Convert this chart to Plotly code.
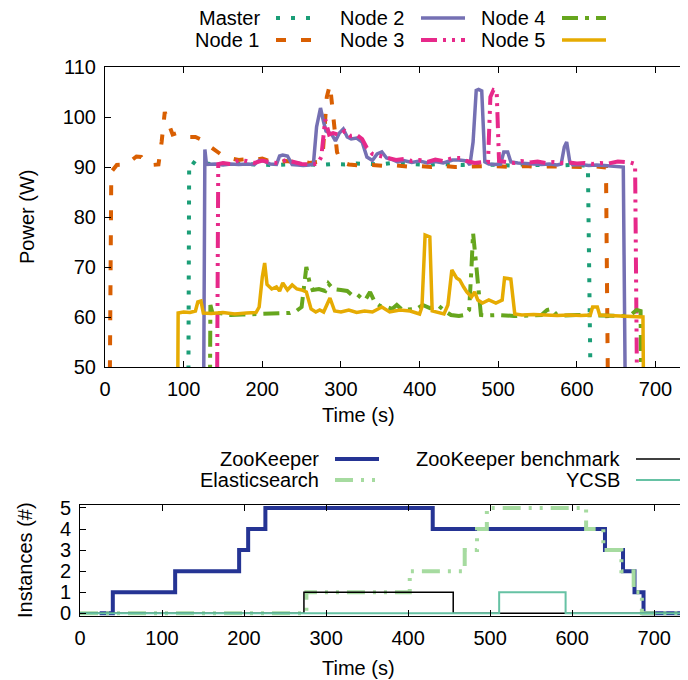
import plotly.graph_objects as go

# ---- data ----
master_t = [0, 105, 107, 110, 115, 125, 140, 155, 170, 185, 200, 215, 230, 245, 260, 275, 290, 305, 320, 335,
            350, 365, 380, 395, 410, 425, 440, 455, 470, 485, 500, 515, 530, 545, 560, 575, 590, 605, 614, 621]
master_w = [0, 0, 90.2, 91.2, 90.6, 90.8, 90.5, 90.7, 90.6, 90.5, 90.6, 90.4, 90.5, 90.7, 90.5, 90.4, 90.6, 90.5, 90.7, 90.6,
            90.5, 90.8, 90.6, 90.5, 90.4, 90.6, 90.5, 90.4, 90.6, 90.5, 90.5, 90.3, 90.5, 90.4, 90.5, 90.3, 90.4, 90.3, 90.3, 0]

node1_t = [0, 4, 8, 15, 27, 34, 40, 46, 52, 60, 68, 72, 76, 80, 86, 92, 100, 108, 115, 122,
           130, 137, 145, 152, 160, 170, 180, 190, 200, 210, 220, 230, 240, 250, 260, 270, 277, 282, 286, 290,
           295, 300, 310, 325, 340, 355, 370, 385, 400, 415, 430, 445, 460, 475, 490, 505, 520, 535, 550, 565,
           580, 595, 610, 625, 637, 642]
node1_w = [0, 0, 89, 90.4, 90.5, 91.5, 92.1, 92, 90.8, 90.4, 90.5, 95, 101, 99, 96.5, 96.8, 96.3, 96, 96, 95.5,
           94.5, 93.6, 92.8, 92, 91.8, 91.4, 91.6, 91.4, 91.7, 91.1, 90.8, 91.2, 91, 91.2, 90.8, 91, 93, 104, 106.5, 101,
           93, 91, 90.5, 90.3, 90.4, 90.2, 90.3, 90.1, 90.2, 90.0, 90.2, 90.0, 90.1, 90.0, 90.2, 90.1, 90.0, 90.2, 90.0, 90.1,
           90.0, 90.1, 90.0, 90.1, 89.9, 0]

node2_t = [0, 124, 127, 129, 140, 150, 160, 170, 180, 190, 196, 202, 210, 218, 222, 226, 232, 238, 245, 252,
           260, 265, 269, 274, 278, 281, 288, 293, 298, 303, 308, 313, 320, 327, 333, 340, 346, 352, 358, 365,
           372, 380, 390, 400, 410, 420, 430, 442, 450, 460, 464, 468, 472, 475, 479, 483, 488, 495, 503, 507,
           512, 516, 525, 535, 545, 555, 565, 575, 580, 584, 587, 591, 595, 605, 615, 625, 635, 645, 655, 659, 664]
node2_w = [0, 0, 93.5, 90.5, 90.6, 90.4, 90.6, 90.5, 90.6, 90.5, 91.3, 91.2, 90.6, 90.5, 92.2, 92.4, 92.2, 90.5, 90.4, 90.3,
           90.4, 90.6, 98, 101.8, 99, 97.2, 96.6, 95.2, 96.8, 97.6, 96, 95.6, 95.8, 95, 92, 91.3, 92.6, 93, 91.8, 91.5,
           91, 91.3, 90.9, 91.2, 90.8, 91.1, 90.8, 91.4, 91.4, 91.2, 90.4, 95, 105.3, 105.5, 105.2, 91, 90.6, 90.5, 90.6, 93,
           93, 91, 90.8, 90.7, 90.6, 90.5, 90.6, 90.4, 90.6, 94, 95, 91, 90.4, 90.5, 90.3, 90.4, 90.3, 90.2, 90.2, 90.0, 0]

node3_t = [0, 141, 144, 150, 160, 171, 180, 190, 200, 210, 220, 230, 240, 250, 260, 270, 275, 280, 285, 290,
           298, 305, 312, 320, 327, 333, 340, 350, 360, 370, 380, 390, 400, 410, 420, 430, 442, 452, 460, 470,
           480, 487, 490, 494, 498, 501, 510, 520, 530, 540, 550, 560, 570, 580, 590, 600, 610, 620, 630, 640,
           652, 660, 668, 674, 679]
node3_w = [0, 0, 90.6, 90.8, 90.6, 91.4, 91.2, 90.8, 91.3, 90.9, 90.8, 91.4, 91, 90.6, 90.5, 90.6, 92, 99.5, 96.5, 96.8,
           96.4, 97.2, 96.2, 96.4, 95.6, 93.8, 92.6, 92.2, 91.8, 91.4, 91.6, 91.2, 91.4, 91, 91.5, 91.2, 91.8, 91.8, 91.2, 90.8,
           91, 91, 104, 105.4, 105.2, 91.2, 91, 90.8, 91.2, 90.9, 91.1, 90.8, 91, 90.8, 90.9, 90.7, 90.8, 90.6, 90.8, 90.7,
           91.1, 91, 90.9, 90.6, 0]

node4_t = [0, 132, 134, 137, 145, 160, 175, 190, 205, 220, 235, 244, 250, 253, 256, 260, 264, 272, 280, 284,
           290, 300, 308, 314, 320, 326, 331, 337, 343, 350, 358, 365, 371, 378, 388, 396, 404, 413, 423, 432,
           440, 450, 457, 463, 466, 468, 471, 474, 478, 485, 500, 520, 540, 555, 562, 568, 574, 580, 600, 620,
           640, 660, 670, 676, 681, 684]
node4_w = [0, 0, 62.4, 60.6, 60.8, 60.4, 60.5, 60.6, 60.8, 60.7, 60.8, 61.3, 62, 66, 70, 67, 65.4, 65.6, 65.2, 66.7,
           65.6, 65.4, 65.2, 64.4, 64.6, 63.8, 63.4, 65, 63, 62.2, 62, 61.6, 62.4, 61.4, 61.4, 61.6, 62.4, 61.8, 62.4, 61.2,
           60.4, 60.2, 60.4, 61.4, 70, 76.8, 72, 66.5, 60.4, 60.3, 60.4, 60.2, 60.3, 60.4, 61.4, 61.6, 60.5, 60.3, 60.4, 60.3,
           60.3, 60.2, 60.6, 61.4, 61.2, 0]

node5_t = [0, 91, 93, 100, 108, 115, 118, 122, 125, 135, 150, 165, 180, 192, 196, 200, 203, 206, 212, 218,
           222, 226, 232, 238, 244, 250, 256, 262, 268, 273, 278, 286, 292, 300, 310, 320, 330, 340, 352, 362,
           375, 388, 400, 403, 407, 413, 416, 421, 431, 436, 441, 447, 451, 456, 460, 466, 470, 474, 480, 488,
           497, 505, 508, 516, 521, 530, 545, 560, 575, 590, 605, 617, 620, 626, 629, 640, 655, 670, 684, 687]
node5_w = [0, 0, 60.8, 61, 60.9, 61.2, 63, 63.2, 60.8, 60.7, 60.9, 60.6, 60.8, 60.9, 62, 68, 70.8, 66.5, 65.6, 66,
           65.2, 66.8, 65.4, 66.4, 65.6, 65.4, 65, 61.6, 61, 61.4, 61, 63.8, 61.2, 61, 61.4, 60.9, 61.2, 61, 62, 61,
           61.4, 61.2, 60.6, 62, 76.4, 76, 61.2, 61, 60.6, 62.4, 69.4, 67.8, 67.4, 66, 65, 64, 65, 63.4, 62.8, 63.4,
           62.8, 63.4, 67.8, 67.6, 60.6, 60.4, 60.5, 60.4, 60.3, 60.4, 60.3, 60.4, 62, 62, 60.4, 60.3, 60.2, 60.1, 60, 0]

zk_t = [24, 40, 116, 194, 205, 226, 430, 640, 662, 676, 687, 740]
zk_n = [0, 1, 2, 3, 4, 5, 4, 3, 2, 1, 0, 0]
es_t = [0, 276, 402, 469, 484, 496, 617, 638, 660, 675, 685, 740]
es_n = [0, 1, 2, 3, 4, 5, 4, 3, 2, 1, 0, 0]
bench_t = [0, 273, 455, 740]
bench_n = [0, 1, 0, 0]
ycsb_t = [0, 511, 592, 740]
ycsb_n = [0, 1, 0, 0]

W, H = 688, 680
OFF = 8  # the page body adds an 8px margin; place everything 8px up/left
FONT = "Liberation Sans, Arial, sans-serif"


def px(x):
    return (x - OFF) / W


def py(y):
    return 1 - (y - OFF) / H


top = [
    ("Master", master_t, master_w, "#1b9e77", "4px,11px", 4),
    ("Node 1", node1_t, node1_w, "#d95f02", "10px,15px", 4),
    ("Node 2", node2_t, node2_w, "#7570b3", "solid", 3.5),
    ("Node 3", node3_t, node3_w, "#e7298a", "16px,6px,3px,6px,3px,6px", 4),
    ("Node 4", node4_t, node4_w, "#66a61e", "16px,7px,4px,7px", 4),
    ("Node 5", node5_t, node5_w, "#e6ab02", "solid", 3.5),
]
bottom = [
    ("ZooKeeper", zk_t, zk_n, "#253494", "solid", 4),
    ("Elasticsearch", es_t, es_n, "#a6dba0", "18px,8px,3px,8px,3px,8px", 4),
    ("ZooKeeper benchmark", bench_t, bench_n, "black", "solid", 1.5),
    ("YCSB", ycsb_t, ycsb_n, "#66c2a4", "solid", 2),
]

fig = go.Figure()
for name, t, v, c, d, w in top:
    fig.add_scatter(x=t, y=v, mode="lines", name=name, xaxis="x", yaxis="y",
                    line=dict(color=c, dash=d, width=w), showlegend=False)
for name, t, v, c, d, w in bottom:
    fig.add_scatter(x=t, y=v, mode="lines", name=name, xaxis="x2", yaxis="y2",
                    line=dict(color=c, dash=d, width=w, shape="hv"), showlegend=False)

ax = dict(showline=True, linecolor="black", linewidth=1, mirror="allticks", ticks="inside",
          ticklen=6, tickcolor="black", showgrid=False, zeroline=False, automargin=False,
          ticklabelstandoff=4, tickfont=dict(size=20, color="black", family=FONT))

fig.update_layout(
    width=W, height=H, margin=dict(l=0, r=0, t=0, b=0, autoexpand=False),
    paper_bgcolor="white", plot_bgcolor="white",
    font=dict(family=FONT, size=20, color="black"),
    xaxis=dict(ax, domain=[px(105), px(687)], range=[0, 740], dtick=100, anchor="y"),
    yaxis=dict(ax, domain=[py(367), py(67)], range=[50, 110], dtick=10, anchor="x"),
    xaxis2=dict(ax, domain=[px(80), px(687)], range=[0, 740], dtick=100, anchor="y2"),
    yaxis2=dict(ax, domain=[py(616), py(505)], range=[-0.13, 5.14], dtick=1, anchor="x2"),
)

ann = [
    ("Power (W)", 27, 217, -90),
    ("Time (s)", 358, 415, 0),
    ("Instances (#)", 25, 560, -90),
    ("Time (s)", 358, 668, 0),
]
for txt, x, y, a in ann:
    fig.add_annotation(text=txt, x=px(x), y=py(y), xref="paper", yref="paper",
                       xanchor="center", yanchor="middle",
                       showarrow=False, textangle=a, font=dict(size=20))

# gnuplot-style keys: label right-aligned, sample to the right
top_key = [(262, 18, 0), (262, 40, 1), (407, 18, 2), (407, 40, 3), (548, 18, 4), (548, 40, 5)]
for x, y, i in top_key:
    name, _, _, c, d, w = top[i]
    fig.add_annotation(text=name, x=px(x), y=py(y), xref="paper", yref="paper",
                       xanchor="right", yanchor="middle", showarrow=False, font=dict(size=20))
    fig.add_shape(type="line", xref="paper", yref="paper", x0=px(x + 14), x1=px(x + 58),
                  y0=py(y), y1=py(y), line=dict(color=c, dash=d, width=w))

bot_key = [(321, 459, 0), (321, 480, 1), (622, 459, 2), (622, 480, 3)]
for x, y, i in bot_key:
    name, _, _, c, d, w = bottom[i]
    fig.add_annotation(text=name, x=px(x), y=py(y), xref="paper", yref="paper",
                       xanchor="right", yanchor="middle", showarrow=False, font=dict(size=20))
    fig.add_shape(type="line", xref="paper", yref="paper", x0=px(x + 14), x1=px(x + 58),
                  y0=py(y), y1=py(y), line=dict(color=c, dash=d, width=w))

fig.write_html("out.html")
